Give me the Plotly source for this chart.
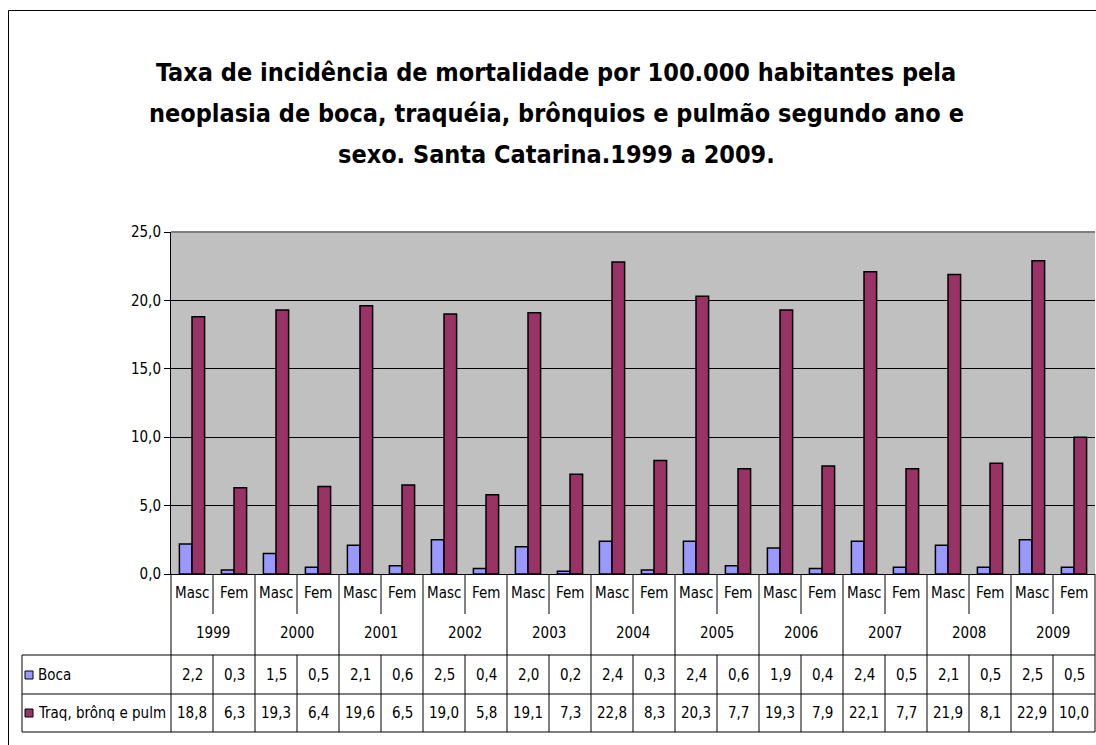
import plotly.graph_objects as go

# ---------------- data ----------------
years = ['1999', '2000', '2001', '2002', '2003', '2004', '2005', '2006', '2007', '2008', '2009']
sexes = ['Masc', 'Fem']
series_names = ['Boca', 'Traq, brônq e pulm']
boca_masc = [2.2, 1.5, 2.1, 2.5, 2.0, 2.4, 2.4, 1.9, 2.4, 2.1, 2.5]
boca_fem = [0.3, 0.5, 0.6, 0.4, 0.2, 0.3, 0.6, 0.4, 0.5, 0.5, 0.5]
traq_masc = [18.8, 19.3, 19.6, 19.0, 19.1, 22.8, 20.3, 19.3, 22.1, 21.9, 22.9]
traq_fem = [6.3, 6.4, 6.5, 5.8, 7.3, 8.3, 7.7, 7.9, 7.7, 8.1, 10.0]
y_ticks = [0, 5, 10, 15, 20, 25]
title_lines = [
    'Taxa de incidência de mortalidade por 100.000 habitantes pela',
    'neoplasia de boca, traquéia, brônquios e pulmão segundo ano e',
    'sexo. Santa Catarina.1999 a 2009.',
]

# ---------------- layout constants ----------------
W, H = 1096, 745
L, R, T, B = 171, 1, 232, 745 - 574
PW, PH = W - L - R, H - T - B
FONT = 'DejaVu Sans Condensed, Liberation Sans, Arial, sans-serif'
C_BOCA = '#9999FF'
C_TRAQ = '#993366'

def px(xpix):
    return (xpix - L) / PW

def py(ypix):
    return (T + PH - ypix) / PH

boca = []
traq = []
cats = []
for i, yr in enumerate(years):
    boca += [boca_masc[i], boca_fem[i]]
    traq += [traq_masc[i], traq_fem[i]]
    cats += [(yr, s) for s in sexes]
n = len(cats)
xs = list(range(n))

def fmt(v):
    return f'{v:.1f}'.replace('.', ',')

fig = go.Figure()
fig.add_trace(go.Bar(x=xs, y=boca, name=series_names[0], marker=dict(color=C_BOCA, line=dict(color='black', width=1.5))))
fig.add_trace(go.Bar(x=xs, y=traq, name=series_names[1], marker=dict(color=C_TRAQ, line=dict(color='black', width=1.5))))

shapes = []
annos = []

def cat_x(i):
    return (i + 0.5) / n

def cat_edge(i):
    return i / n

line_k = dict(color='black', width=1)
TXT = 15

# outer chart border (left + top)
shapes.append(dict(type='line', xref='paper', yref='paper', x0=px(8.5), x1=px(1200), y0=py(10.5), y1=py(10.5), line=line_k))
shapes.append(dict(type='line', xref='paper', yref='paper', x0=px(8.5), x1=px(8.5), y0=py(10.5), y1=py(800), line=line_k))
# plot area top border (gray)
shapes.append(dict(type='line', xref='paper', yref='paper', x0=0, x1=1, y0=1, y1=1, line=dict(color='#808080', width=2)))

# category axis table
y_axis = py(574)
y_sep_short = py(614)
y_tab_top = py(655)
y_tab_mid = py(694)
y_tab_bot = py(732)
for i in range(n + 1):
    xe = cat_edge(i)
    if i % 2 == 0:
        shapes.append(dict(type='line', xref='paper', yref='paper', x0=xe, x1=xe, y0=y_axis, y1=y_tab_bot, line=line_k))
    else:
        shapes.append(dict(type='line', xref='paper', yref='paper', x0=xe, x1=xe, y0=y_axis, y1=y_sep_short, line=line_k))
        shapes.append(dict(type='line', xref='paper', yref='paper', x0=xe, x1=xe, y0=y_tab_top, y1=y_tab_bot, line=line_k))
for yy in (y_tab_top, y_tab_mid, y_tab_bot):
    shapes.append(dict(type='line', xref='paper', yref='paper', x0=px(22), x1=1, y0=yy, y1=yy, line=line_k))
shapes.append(dict(type='line', xref='paper', yref='paper', x0=px(22), x1=px(22), y0=y_tab_top, y1=y_tab_bot, line=line_k))

for i, (yr, s) in enumerate(cats):
    annos.append(dict(xref='paper', yref='paper', x=cat_x(i), y=py(593), text=s, showarrow=False,
                      font=dict(family=FONT, size=TXT, color='black'), xanchor='center', yanchor='middle'))
for j, yr in enumerate(years):
    annos.append(dict(xref='paper', yref='paper', x=(2 * j + 1) / n, y=py(633), text=yr, showarrow=False,
                      font=dict(family=FONT, size=TXT, color='black'), xanchor='center', yanchor='middle'))

row_centers = (675, 713)
for r, (vals, col, nm) in enumerate([(boca, C_BOCA, series_names[0]), (traq, C_TRAQ, series_names[1])]):
    ycen = row_centers[r]
    for i, v in enumerate(vals):
        annos.append(dict(xref='paper', yref='paper', x=cat_x(i), y=py(ycen), text=fmt(v), showarrow=False,
                          font=dict(family=FONT, size=TXT, color='black'), xanchor='center', yanchor='middle'))
    shapes.append(dict(type='rect', xref='paper', yref='paper', x0=px(25), x1=px(33), y0=py(ycen - 4), y1=py(ycen + 4),
                       fillcolor=col, line=dict(color='black', width=1)))
    annos.append(dict(xref='paper', yref='paper', x=px(36), y=py(ycen), text=nm, showarrow=False,
                      font=dict(family=FONT, size=TXT, color='black'), xanchor='left', yanchor='middle'))

for t, yp in zip(title_lines, (72, 113, 154)):
    annos.append(dict(xref='paper', yref='paper', x=px(556), y=py(yp), text='<b>' + t + '</b>', showarrow=False,
                      font=dict(family=FONT, size=25, color='black'), xanchor='center', yanchor='middle'))

fig.update_layout(
    width=W, height=H,
    margin=dict(l=L, r=R, t=T, b=B, pad=0),
    paper_bgcolor='white', plot_bgcolor='#C0C0C0',
    barmode='group', bargap=0.4, bargroupgap=0,
    showlegend=False, hovermode=False,
    shapes=shapes, annotations=annos,
    font=dict(family=FONT, size=TXT, color='black'),
)
fig.update_xaxes(range=[-0.5, n - 0.5], showticklabels=False, showgrid=False, zeroline=False,
                 showline=True, linecolor='black', linewidth=1, ticks='', fixedrange=True)
fig.update_yaxes(range=[0, 25], tickvals=y_ticks, ticktext=[fmt(v) for v in y_ticks],
                 showgrid=True, gridcolor='black', gridwidth=1, zeroline=False,
                 showline=True, linecolor='black', linewidth=1, ticks='outside', ticklen=6, tickcolor='black',
                 tickfont=dict(family=FONT, size=TXT, color='black'), fixedrange=True)

fig.write_html('out.html', config={'displayModeBar': False},
               post_script="document.body.style.margin='0';document.body.style.overflow='hidden';")
